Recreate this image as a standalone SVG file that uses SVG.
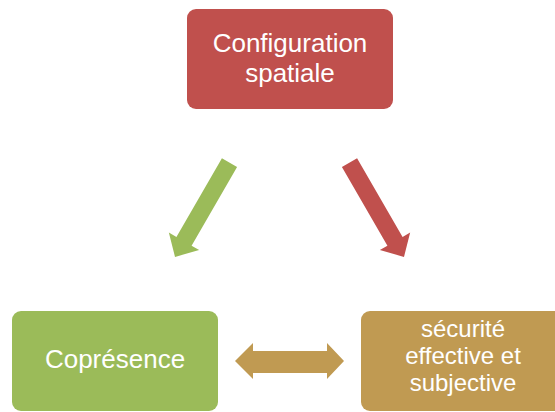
<svg xmlns="http://www.w3.org/2000/svg" width="555" height="412" viewBox="0 0 555 412">
  <style>
    .lbl { font-family: "Liberation Sans", Arial, sans-serif; font-size: 26px; fill: #ffffff; text-anchor: middle; }
    .sm { font-size: 24px; }
    .red { fill: #C0504D; }
    .green { fill: #9BBB59; }
    .gold { fill: #C09A52; }
  </style>
  <defs>
    <!-- block arrow pointing along +x, tail centred on the origin -->
    <path id="blockArrow" d="M0,-8.75 L91,-8.75 L91,-17.5 L109,0 L91,17.5 L91,8.75 L0,8.75 Z"/>
  </defs>

  <g id="node-configuration">
    <rect class="red" x="187" y="9" width="206" height="100" rx="9"/>
    <text class="lbl" x="290" y="52">Configuration</text>
    <text class="lbl" x="290" y="82">spatiale</text>
  </g>

  <g id="node-copresence">
    <rect class="green" x="12" y="311" width="206" height="100" rx="9"/>
    <text class="lbl" x="115" y="368">Coprésence</text>
  </g>

  <g id="node-securite">
    <rect class="gold" x="361" y="311" width="206" height="100" rx="9"/>
    <text class="lbl sm" x="463" y="337">sécurité</text>
    <text class="lbl sm" x="463" y="364">effective et</text>
    <text class="lbl sm" x="463" y="391">subjective</text>
  </g>

  <g id="connectors">
    <use href="#blockArrow" class="green" transform="translate(229.5,162.5) rotate(120)"/>
    <use href="#blockArrow" class="red" transform="translate(349.5,162.5) rotate(60)"/>
    <path class="gold" d="M235,361 L253,343 L253,351 L327,351 L327,343 L344,361 L327,379 L327,373 L253,373 L253,379 Z"/>
  </g>
</svg>
